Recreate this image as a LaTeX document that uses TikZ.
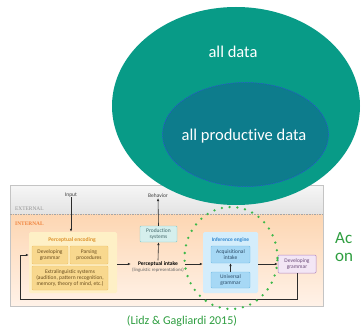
\documentclass[tikz,border=0pt]{standalone}
\usepackage{fontspec}
\setmainfont{Carlito}[Ligatures=NoCommon]
\newfontfamily\capsfont{Liberation Serif}
\usetikzlibrary{shapes.geometric,arrows.meta}

\definecolor{tealout}{HTML}{089B87}
\definecolor{tealin}{HTML}{0D7C8C}
\definecolor{innerdash}{HTML}{2F4FD8}
\definecolor{citegreen}{HTML}{2E9E40}
\definecolor{dotgreen}{HTML}{3DB84A}
\definecolor{framegray}{HTML}{C4C4C4}
\definecolor{extTop}{HTML}{F6F6F6}
\definecolor{extBot}{HTML}{E3E3E3}
\definecolor{peachTop}{HTML}{FDD6B2}
\definecolor{peachBot}{HTML}{FFF2E8}
\definecolor{encFill}{HTML}{FEF0C6}
\definecolor{encBox}{HTML}{F8D88E}
\definecolor{encLine}{HTML}{EFC36C}
\definecolor{encTitle}{HTML}{DE942C}
\definecolor{encText}{HTML}{6B4E1E}
\definecolor{prodFill}{HTML}{D5EFED}
\definecolor{prodLine}{HTML}{86CACA}
\definecolor{prodText}{HTML}{44696B}
\definecolor{infFill}{HTML}{D4EDFB}
\definecolor{infBox}{HTML}{A6D8F5}
\definecolor{infLine}{HTML}{74BEE6}
\definecolor{infTitle}{HTML}{2E86CF}
\definecolor{infText}{HTML}{2A4A66}
\definecolor{gramFill}{HTML}{F3E6F5}
\definecolor{gramLine}{HTML}{B487C2}
\definecolor{gramText}{HTML}{6A4A78}
\definecolor{intOrange}{HTML}{F0843E}
\definecolor{arrowgray}{HTML}{2C2C2C}

\tikzset{
  figtext/.style={font=\fontsize{5.5}{6.3}\selectfont, align=center, inner sep=0pt},
  encbox/.style={figtext, draw=encLine, fill=encBox, rounded corners=1pt, text=encText, line width=0.4pt},
  infbox/.style={figtext, draw=infLine, fill=infBox, rounded corners=1pt, text=infText, line width=0.4pt},
  panel/.style={rounded corners=1.5pt, inner sep=0pt},
  arr/.style={draw=arrowgray, line width=0.6pt, -{Latex[length=3pt,width=2.6pt]}},
  bigtext/.style={text=white, font=\fontsize{16.5}{19}\selectfont, inner sep=0pt},
}

\begin{document}
\begin{tikzpicture}[x=1pt, y=-1pt]
\useasboundingbox (0,0) rectangle (364,329);
\fill[white] (0,0) rectangle (364,329);

% ---------- model figure: external / internal bands ----------
\shade[top color=extTop, bottom color=extBot] (10,185) rectangle (323,214);
\shade[top color=peachTop, bottom color=peachBot] (10,214) rectangle (323,306);
\draw[framegray, line width=0.7pt] (10,185) rectangle (323,306);
\draw[gray!70, line width=0.5pt, dash pattern=on 1.6pt off 1pt] (10,214) -- (323,214);

\node[anchor=base west, inner sep=0pt, text=gray!85, font=\capsfont\fontsize{5.4}{6}\selectfont] (extlab) at (15,210) {EXTERNAL};
\node[anchor=base west, inner sep=0pt, text=intOrange, font=\capsfont\bfseries\fontsize{5.4}{6}\selectfont] (intlab) at (15,225) {INTERNAL};

\coordinate (rowy) at (0,264);

% perceptual encoding
\node[panel, fill=encFill, minimum width=88pt, minimum height=61pt] (enc) at (73,262.5) {};
\node[figtext, text=encTitle, font=\bfseries\fontsize{5.6}{6.3}\selectfont] (enctitle) at (72,240) {Perceptual encoding};
\node[encbox, minimum width=36pt, minimum height=18pt] (dgL) at (50,255) {Developing\\grammar};
\node[encbox, minimum width=38pt, minimum height=18pt] (pp) at (89,255) {Parsing\\procedures};
\node[encbox, minimum width=76pt, minimum height=24pt] (extra) at (70,278) {Extralinguistic systems\\(audition, pattern recognition,\\memory, theory of mind, etc.)};

% external labels
\node[figtext, text=black!75] (input) at (71,195) {Input};
\node[figtext, text=black!75] (behav) at (158,196) {Behavior};

% perceptual intake and production
\node[figtext, inner sep=1pt] (intake) at (158,267) {\textbf{Perceptual intake}\\{\color{black!60}\fontsize{4.8}{5.6}\selectfont(linguistic representations)}};
\node[figtext, draw=prodLine, fill=prodFill, text=prodText, rounded corners=1pt, minimum width=37pt, minimum height=16pt, line width=0.4pt] (prod) at (158.5,234) {Production\\systems};

% inference engine
\node[panel, fill=infFill, minimum width=55pt, minimum height=61pt] (inf) at (230.5,262.5) {};
\node[figtext, text=infTitle, font=\bfseries\fontsize{5.4}{6.3}\selectfont] (inftitle) at (230.5,240) {Inference engine};
\node[infbox, minimum width=39pt, minimum height=17pt] (ai) at (230.5,254.5) {Acquisitional\\intake};
\node[infbox, minimum width=39pt, minimum height=16pt] (ug) at (230.5,280) {Universal\\grammar};

% developing grammar (output)
\node[figtext, draw=gramLine, fill=gramFill, text=gramText, rounded corners=1pt, minimum width=38pt, minimum height=18pt, line width=0.5pt] (dgR) at (297,264) {Developing\\grammar};

% connectors
\draw[arr] (input.south) -- (input.south |- enc.north);
\draw[arr] (enc.east |- rowy) -- (intake.west |- rowy);
\draw[arr] (intake.north) -- (prod.south);
\draw[arr] (prod.north) -- (behav.south);
\draw[arr] (intake.east |- rowy) -- (inf.west |- rowy);
\draw[arr] (ug.north) -- (ai.south);
\draw[arr] (inf.east |- dgR.west) -- (dgR.west);
\coordinate (fbcorner) at (20,299);
\draw[arr] (dgR.south) |- (fbcorner) |- (enc.west |- dgL.center);

% ---------- data ellipses ----------
\node[ellipse, fill=tealout, minimum width=248pt, minimum height=198pt, inner sep=0pt] (alldata) at (236,106) {};
\node[ellipse, fill=tealin, draw=innerdash, line width=0.5pt, dash pattern=on 1.5pt off 1pt, minimum width=166pt, minimum height=104pt, inner sep=0pt] (proddata) at (245.5,134.5) {};
\node[bigtext] (alldatalab) at (233,52) {all data};
\node[bigtext] (proddatalab) at (244,136) {all productive data};

% ---------- highlight of the inference engine ----------
\node[ellipse, draw=dotgreen, line width=2.6pt, line cap=round, dash pattern=on 0pt off 7.8pt, minimum width=93pt, minimum height=102pt, inner sep=0pt] (focus) at (231,258) {};

% ---------- green captions ----------
\node[anchor=base west, inner sep=0pt, text=citegreen, font=\fontsize{17}{20}\selectfont] (capA) at (335,243) {Ac};
\node[anchor=base west, inner sep=0pt, text=citegreen, font=\fontsize{17}{20}\selectfont] (capB) at (335,261) {on};
\node[text=citegreen, inner sep=0pt, font=\fontsize{12}{14}\selectfont] (cite) at (182,321) {(Lidz \& Gagliardi 2015)};
\end{tikzpicture}
\end{document}
